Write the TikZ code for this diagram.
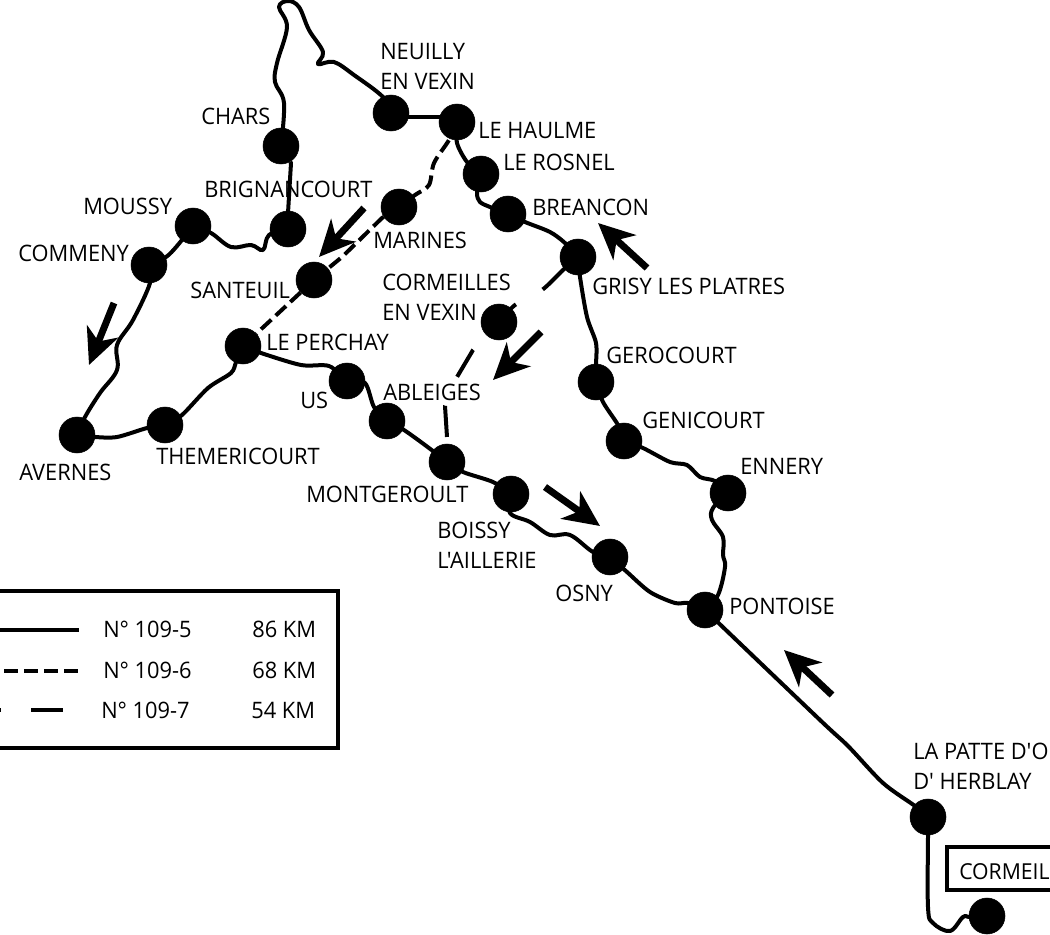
\documentclass[tikz,border=0pt]{standalone}
\usepackage{fontspec}
\setmainfont[FakeStretch=0.963,Ligatures=TeXOff]{Open Sans}
\usetikzlibrary{arrows.meta}

\begin{document}
\begin{tikzpicture}
[
x=0.75pt,y=-0.75pt,
halt/.style={draw,fill=black,circle,inner sep=0pt,minimum size=27pt},
place/.style={anchor=west,inner sep=0pt,align=left,font=\fontsize{17}{22.5}\selectfont},
route/.style={line width=3pt,line join=round},
routesix/.style={route,dash pattern=on 10.5pt off 4.5pt},
routeseven/.style={route},
bigarrow/.style={line width=5.2pt,-{Stealth[length=27pt,width=25pt,inset=8pt]}},
frame/.style={line width=3.5pt},
]
\clip (0,0) rectangle (1050,935);

%Place the nodes
\node[halt] (chars) at (281,146) {};
\node[halt] (brignancourt) at (288,229) {};
\node[halt] (moussy) at (193,226) {};
\node[halt] (commeny) at (149,265) {};
\node[halt] (avernes) at (77,435) {};
\node[halt] (themericourt) at (165,425) {};
\node[halt] (perchay) at (243,346) {};
\node[halt] (us) at (347,381) {};
\node[halt] (ableiges) at (387,421) {};
\node[halt] (montgeroult) at (447,462) {};
\node[halt] (boissy) at (511,494) {};
\node[halt] (osny) at (610,557) {};
\node[halt] (pontoise) at (705,610) {};
\node[halt] (patte) at (928,817) {};
\node[halt] (cormeilles) at (987,916) {};
\node[halt] (neuilly) at (391,113) {};
\node[halt] (haulme) at (457,122) {};
\node[halt] (rosnel) at (481,174) {};
\node[halt] (breancon) at (508,214) {};
\node[halt] (grisy) at (578,257) {};
\node[halt] (gerocourt) at (596,382) {};
\node[halt] (genicourt) at (624,441) {};
\node[halt] (ennery) at (728,493) {};
\node[halt] (marines) at (399,207) {};
\node[halt] (santeuil) at (314,280) {};
\node[halt] (vexin) at (499,322) {};

%Place the labels
\node[place] (charstxt) at (201,116) {CHARS};
\node[place] (neuillytxt) at (380,66) {NEUILLY\\EN VEXIN};
\node[place] (haulmetxt) at (478,130) {LE HAULME};
\node[place] (rosneltxt) at (503,162) {LE ROSNEL};
\node[place] (breancontxt) at (532,207) {BREANCON};
\node[place] (grisytxt) at (592,286) {GRISY LES PLATRES};
\node[place] (gerocourttxt) at (606,355) {GEROCOURT};
\node[place] (genicourttxt) at (642,420) {GENICOURT};
\node[place] (ennerytxt) at (740,466) {ENNERY};
\node[place] (pontoisetxt) at (729,606) {PONTOISE};
\node[place] (pattetxt) at (913,766) {LA PATTE D'O\\D' HERBLAY};
\node[place] (moussytxt) at (83,206) {MOUSSY};
\node[place] (commenytxt) at (18,253) {COMMENY};
\node[place] (brignancourttxt) at (204,189) {BRIGNANCOURT};
\node[place] (marinestxt) at (373,240) {MARINES};
\node[place] (santeuiltxt) at (190,290) {SANTEUIL};
\node[place] (vexintxt) at (382,297) {CORMEILLES\\EN VEXIN};
\node[place] (perchaytxt) at (266,342) {LE PERCHAY};
\node[place] (ustxt) at (300,400) {US};
\node[place] (ableigestxt) at (383,392) {ABLEIGES};
\node[place] (avernestxt) at (19,472) {AVERNES};
\node[place] (themericourttxt) at (156,456) {THEMERICOURT};
\node[place] (montgeroulttxt) at (306,494) {MONTGEROULT};
\node[place] (boissytxt) at (437,545) {BOISSY\\L'AILLERIE};
\node[place] (osnytxt) at (555,593) {OSNY};
\node[draw,line width=3pt,anchor=west,minimum width=120pt,minimum height=32pt] (cormeilbox) at (945,868.5) {};
\node[place,font=\fontsize{16.5}{22.5}\selectfont] (cormeiltxt) at (959,872) {CORMEIL};

%Draw the connections
\draw[route] plot[smooth,tension=0.6] coordinates {(chars) (284,103) (275,82) (277,63) (287,27) (279,7) (288,1) (299,7) (309,30) (323,52) (318,64) (334,62) (354,75) (383,97) (neuilly)};
\draw[route] (neuilly |- 0,117) -- (haulme |- 0,117);
\draw[route] plot[smooth] coordinates {(haulme) (457,143) (467,162) (rosnel)};
\draw[route] plot[smooth] coordinates {(rosnel) (477,193) (480,202) (490,207) (breancon)};
\draw[route] plot[smooth] coordinates {(breancon) (525,222) (550,232) (565,243) (grisy)};
\draw[route] plot[smooth] coordinates {(grisy) (580,277) (587,317) (596,343) (596,365) (gerocourt)};
\draw[route] plot[smooth] coordinates {(gerocourt) (603,402) (618,425) (genicourt)};
\draw[route] plot[smooth] coordinates {(genicourt) (643,448) (670,462) (687,465) (700,477) (715,481) (ennery)};
\draw[route] plot[smooth,tension=0.6] coordinates {(ennery) (713,508) (712,520) (723,537) (723,555) (725,567) (718,595) (pontoise)};
\draw[route] plot[smooth] coordinates {(pontoise) (820,720) (848,746) (883,783) (915,806) (patte)};
\draw[route] plot[smooth,tension=0.6] coordinates {(patte) (928,835) (928,907) (933,923) (950,931) (963,917) (970,917) (cormeilles)};
\draw[route] (brignancourt) -- (288,213) -- (291,163) -- (chars);
\draw[route] plot[smooth,tension=0.6] coordinates {(moussy) (211,233) (231,247) (251,245) (263,250) (269,235) (brignancourt)};
\draw[route] plot[smooth] coordinates {(commeny) (166,257) (177,246) (moussy)};
\draw[route] plot[smooth,tension=0.6] coordinates {(commeny) (150,283) (133,320) (117,345) (117,370) (100,393) (85,417) (avernes)};
\draw[route] plot[smooth] coordinates {(avernes) (95,437) (117,437) (147,428) (themericourt)};
\draw[route] plot[smooth] coordinates {(themericourt) (182,415) (208,388) (231,373) (236,362) (perchay)};
\draw[route] plot[smooth] coordinates {(perchay) (261,353) (301,365) (329,366) (us)};
\draw[route] plot[smooth] coordinates {(us) (365,383) (374,407) (ableiges)};
\draw[route] plot[smooth] coordinates {(ableiges) (404,430) (429,448) (montgeroult)};
\draw[route] plot[smooth] coordinates {(montgeroult) (463,472) (493,482) (boissy)};
\draw[route] plot[smooth,tension=0.6] coordinates {(boissy) (510,513) (530,522) (550,535) (570,535) (593,552) (osny)};
\draw[route] plot[smooth] coordinates {(osny) (627,572) (650,592) (675,603) (688,603) (pontoise)};
\draw[routesix] plot[smooth] coordinates {(haulme) (449,140) (434,163) (429,185) (415,195) (marines)};
\draw[routesix] (marines) -- (382,218) -- (342,257) -- (santeuil);
\draw[routesix] (santeuil) -- (perchay);
\draw[routeseven,dash pattern=on 36pt off 23pt on 80pt] plot[smooth] coordinates {(grisy) (563,270) (542,290) (515,305) (vexin)};
\draw[routeseven,dash pattern=on 0pt off 28.5pt on 23.5pt off 23.5pt on 23.5pt off 40pt] plot coordinates {(vexin) (473,350) (457,377) (445,406) (447,437) (montgeroult)};

%Direction arrows
\coordinate (arrowAa) at (114,303);
\coordinate (arrowAb) at (89,365);
\coordinate (arrowBa) at (364,208);
\coordinate (arrowBb) at (319,257);
\coordinate (arrowCa) at (647,268);
\coordinate (arrowCb) at (598,223);
\coordinate (arrowDa) at (541,332);
\coordinate (arrowDb) at (493,380);
\coordinate (arrowEa) at (545,487);
\coordinate (arrowEb) at (600,526);
\coordinate (arrowFa) at (832,695);
\coordinate (arrowFb) at (784,650);
\draw[bigarrow] (arrowAa) -- (arrowAb);
\draw[bigarrow] (arrowBa) -- (arrowBb);
\draw[bigarrow] (arrowCa) -- (arrowCb);
\draw[bigarrow] (arrowDa) -- (arrowDb);
\draw[bigarrow] (arrowEa) -- (arrowEb);
\draw[bigarrow] (arrowFa) -- (arrowFb);

%The key
\coordinate (keyNW) at (-10,591);
\coordinate (keySE) at (338,748);
\draw[frame] (keyNW) rectangle (keySE);
\coordinate (keyAa) at (-10,630);
\coordinate (keyAb) at (79,630);
\coordinate (keyBa) at (-16,671);
\coordinate (keyBb) at (78,671);
\coordinate (keyCa) at (-31,710);
\coordinate (keyCb) at (63,710);
\draw[route] (keyAa) -- (keyAb);
\draw[routesix] (keyBa) -- (keyBb);
\draw[routeseven,dash pattern=on 24pt off 22.5pt] (keyCa) -- (keyCb);
\node[place] (numA) at (103,629) {N° 109-5};
\node[place] (numB) at (103,670) {N° 109-6};
\node[place] (numC) at (101,710) {N° 109-7};
\node[place] (kmA) at (252,629) {86 KM};
\node[place] (kmB) at (252,670) {68 KM};
\node[place] (kmC) at (251,710) {54 KM};
\end{tikzpicture}
\end{document}
